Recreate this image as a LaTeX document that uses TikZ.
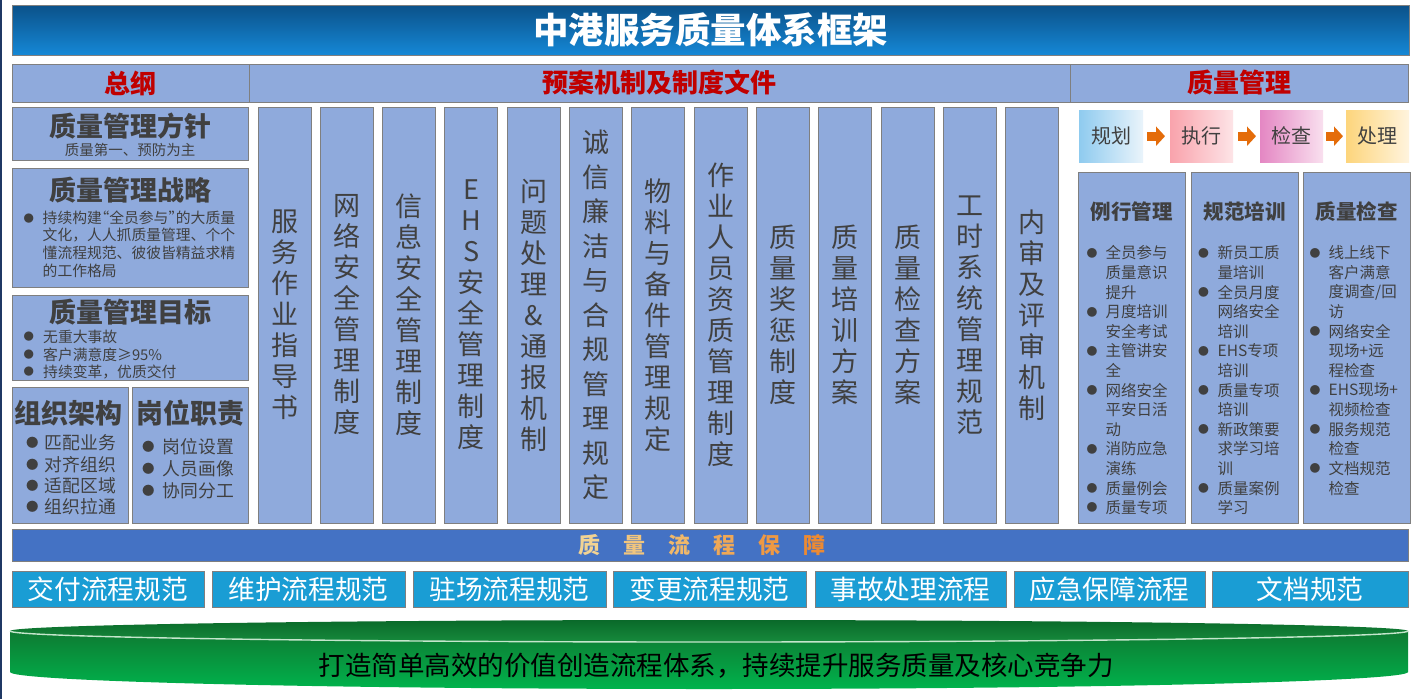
\documentclass[tikz,border=0pt]{standalone}
\usepackage{fontspec}
\usepackage{graphicx}
\setmainfont{Noto Sans CJK SC}
\usetikzlibrary{arrows.meta}
\definecolor{boxfill}{HTML}{8FAADC}
\definecolor{boxline}{HTML}{7F7F7F}
\definecolor{txt}{HTML}{404040}
\definecolor{hdrred}{HTML}{C00000}
\definecolor{procblue}{HTML}{1A9DD4}
\definecolor{barblue}{HTML}{4472C4}
\definecolor{titletop}{HTML}{0B5189}
\definecolor{titlebot}{HTML}{1588D6}
\definecolor{arroworange}{HTML}{E46C0A}
\definecolor{navyline}{HTML}{1F3864}
\definecolor{gtop}{HTML}{0E7A32}
\definecolor{gbot}{HTML}{00B34C}
\definecolor{gcapA}{HTML}{0A6A2A}
\definecolor{gcapB}{HTML}{168A3C}
\definecolor{ghl}{HTML}{C4E6CC}
\definecolor{pL}{HTML}{8FCBEF}\definecolor{pR}{HTML}{EAF4FB}
\definecolor{dL}{HTML}{F9A3AC}\definecolor{dR}{HTML}{FDE4E7}
\definecolor{cL}{HTML}{E487C3}\definecolor{cR}{HTML}{F9E0EF}
\definecolor{aL}{HTML}{FDD57C}\definecolor{aR}{HTML}{FFF4DE}
\definecolor{g1}{HTML}{F2D393}\definecolor{g2}{HTML}{F0C57E}
\definecolor{g3}{HTML}{F0B86A}\definecolor{g4}{HTML}{EFA857}
\definecolor{g5}{HTML}{EE9944}\definecolor{g6}{HTML}{EC8A33}
\newcommand\bl[1]{\makebox[#1][l]{\raisebox{0.11em}{\scalebox{0.7}{●}}}}
\newcommand\cn[1]{\hspace*{#1}}
\newcommand\myLq{\makebox[0.5em][r]{“}}
\newcommand\myRq{\makebox[0.5em][l]{”}}
\begin{document}
\begin{tikzpicture}[x=1pt,y=-1pt,
 box/.style={draw=boxline, line width=1pt, fill=boxfill, anchor=north west, inner sep=0pt, outer sep=0pt},
 hdr/.style={box, minimum height=38pt, text=hdrred, font=\bfseries\fontsize{26}{26}\selectfont},
 ttl/.style={inner sep=0pt, text=txt, font=\bfseries\fontsize{27}{27}\selectfont},
 col/.style={box, minimum width=53pt, minimum height=416pt, align=center, text=txt, font=\fontsize{27}{31}\selectfont},
 pdca/.style={anchor=north west, inner sep=0pt, minimum width=63pt, minimum height=52pt, text=txt, font=\fontsize{20}{20}\selectfont},
 rbox/.style={box, minimum width=107pt, minimum height=351pt},
 rttl/.style={inner sep=0pt, text=txt, font=\bfseries\fontsize{20.5}{20.5}\selectfont},
 bt/.style={anchor=west, inner sep=0pt, text=txt},
 proc/.style={box, fill=procblue, minimum height=36pt, text=white, font=\fontsize{26.7}{26.7}\selectfont},
 flow/.style={arroworange, line width=9pt, -{Triangle[length=9pt,width=19pt]}},
]
\useasboundingbox (0,0) rectangle (1419,699);
\fill[white] (0,0) rectangle (1419,699);
\fill[navyline] (0,0) rectangle (2,699);

% title
\node[box, minimum width=1397pt, minimum height=50pt, top color=titletop, bottom color=titlebot, text=white, font=\bfseries\fontsize{35.5}{35.5}\selectfont] (title) at (12,5) {中港服务质量体系框架};

% header row
\node[hdr, minimum width=237pt] (hA) at (12,64) {总纲};
\node[hdr, minimum width=821pt] (hB) at (249,64) {预案机制及制度文件};
\node[hdr, minimum width=338pt] (hC) at (1070,64) {质量管理};

% left column
\node[box, minimum width=236pt, minimum height=53pt] (L1) at (12,107) {};
\node[ttl] (L1t) at (130,126) {质量管理方针};
\node[inner sep=0pt, text=txt, font=\fontsize{14.5}{14.5}\selectfont] (L1s) at (130,150) {质量第一、预防为主};

\node[box, minimum width=236pt, minimum height=119pt] (L2) at (12,168) {};
\node[ttl] (L2t) at (130,190) {质量管理战略};
\foreach \t [count=\i from 0] in {{\bl{19pt}持续构建\myLq 全员参与\myRq 的大质量},{\cn{19pt}文化，人人抓质量管理、个个},{\cn{19pt}懂流程规范、彼彼皆精益求精},{\cn{19pt}的工作格局}}
  \node[bt, font=\fontsize{14.8}{14.8}\selectfont] (L2l\i) at (23.5,{218+17.5*\i}) {\t};

\node[box, minimum width=236pt, minimum height=85pt] (L3) at (12,295) {};
\node[ttl] (L3t) at (130,312) {质量管理目标};
\foreach \t [count=\i from 0] in {{\bl{19.5pt}无重大事故},{\bl{19.5pt}客户满意度≥95\%},{\bl{19.5pt}持续变革，优质交付}}
  \node[bt, font=\fontsize{14.8}{14.8}\selectfont] (L3l\i) at (23.5,{337+17.5*\i}) {\t};

\node[box, minimum width=116pt, minimum height=136pt] (L4) at (12,387) {};
\node[ttl] (L4t) at (68,413) {组织架构};
\foreach \t [count=\i from 0] in {{\bl{18.5pt}匹配业务},{\bl{18.5pt}对齐组织},{\bl{18.5pt}适配区域},{\bl{18.5pt}组织拉通}}
  \node[bt, font=\fontsize{17.8}{17.8}\selectfont] (L4l\i) at (26,{443+21.3*\i}) {\t};

\node[box, minimum width=116pt, minimum height=136pt] (L5) at (132,387) {};
\node[ttl] (L5t) at (190,413) {岗位职责};
\foreach \t [count=\i from 0] in {{\bl{20.5pt}岗位设置},{\bl{20.5pt}人员画像},{\bl{20.5pt}协同分工}}
  \node[bt, font=\fontsize{17.8}{17.8}\selectfont] (L5l\i) at (142,{447+22*\i}) {\t};

% vertical document columns
\node[col] (c1) at (258,107) {服\\务\\作\\业\\指\\导\\书};
\node[col] (c2) at (320.3,107) {网\\络\\安\\全\\管\\理\\制\\度};
\node[col] (c3) at (382.6,107) {信\\息\\安\\全\\管\\理\\制\\度};
\node[col] (c4) at (444.9,107) {E\\H\\S\\安\\全\\管\\理\\制\\度};
\node[col] (c5) at (507.2,107) {问\\题\\处\\理\\\&\\通\\报\\机\\制};
\node[col, font=\fontsize{27}{34.5}\selectfont] (c6) at (569.5,107) {诚\\信\\廉\\洁\\与\\合\\规\\管\\理\\规\\定};
\node[col] (c7) at (631.8,107) {物\\料\\与\\备\\件\\管\\理\\规\\定};
\node[col] (c8) at (694.1,107) {作\\业\\人\\员\\资\\质\\管\\理\\制\\度};
\node[col] (c9) at (756.4,107) {质\\量\\奖\\惩\\制\\度};
\node[col] (c10) at (818.7,107) {质\\量\\培\\训\\方\\案};
\node[col] (c11) at (881,107) {质\\量\\检\\查\\方\\案};
\node[col] (c12) at (943.3,107) {工\\时\\系\\统\\管\\理\\规\\范};
\node[col] (c13) at (1005.6,107) {内\\审\\及\\评\\审\\机\\制};

% PDCA
\node[pdca, minimum width=64pt, left color=pL, right color=pR] (P) at (1079,110) {规划};
\node[pdca, left color=dL, right color=dR] (D) at (1170,110) {执行};
\node[pdca, left color=cL, right color=cR] (C) at (1260,110) {检查};
\node[pdca, left color=aL, right color=aR] (A) at (1346,110) {处理};
\draw[flow] ([xshift=4pt]P.east) -- ([xshift=-5pt]D.west);
\draw[flow] ([xshift=5pt]D.east) -- ([xshift=-4pt]C.west);
\draw[flow] ([xshift=3pt]C.east) -- ([xshift=-3pt]A.west);

% right boxes
\node[rbox] (R1) at (1078,172) {};
\node[rbox] (R2) at (1191,172) {};
\node[rbox] (R3) at (1303,172) {};
\node[rttl] (R1t) at (1131.5,212) {例行管理};
\node[rttl] (R2t) at (1244.5,212) {规范培训};
\node[rttl] (R3t) at (1356.5,212) {质量检查};
\foreach \t [count=\i from 0] in {{\bl{19pt}全员参与},{\cn{19pt}质量意识},{\cn{19pt}提升},{\bl{19pt}月度培训},{\cn{19pt}安全考试},{\bl{19pt}主管讲安},{\cn{19pt}全},{\bl{19pt}网络安全},{\cn{19pt}平安日活},{\cn{19pt}动},{\bl{19pt}消防应急},{\cn{19pt}演练},{\bl{19pt}质量例会},{\bl{19pt}质量专项}}
  \node[bt, font=\fontsize{15.5}{15.5}\selectfont] (R1l\i) at (1086.5,{253+19.6*\i}) {\t};
\foreach \t [count=\i from 0] in {{\bl{19.5pt}新员工质},{\cn{19.5pt}量培训},{\bl{19.5pt}全员月度},{\cn{19.5pt}网络安全},{\cn{19.5pt}培训},{\bl{19.5pt}EHS专项},{\cn{19.5pt}培训},{\bl{19.5pt}质量专项},{\cn{19.5pt}培训},{\bl{19.5pt}新政策要},{\cn{19.5pt}求学习培},{\cn{19.5pt}训},{\bl{19.5pt}质量案例},{\cn{19.5pt}学习}}
  \node[bt, font=\fontsize{15.5}{15.5}\selectfont] (R2l\i) at (1198,{253+19.6*\i}) {\t};
\foreach \t [count=\i from 0] in {{\bl{19pt}线上线下},{\cn{19pt}客户满意},{\cn{19pt}度调查/回},{\cn{19pt}访},{\bl{19pt}网络安全},{\cn{19pt}现场+远},{\cn{19pt}程检查},{\bl{19pt}EHS现场+},{\cn{19pt}视频检查},{\bl{19pt}服务规范},{\cn{19pt}检查},{\bl{19pt}文档规范},{\cn{19pt}检查}}
  \node[bt, font=\fontsize{15.5}{15.5}\selectfont] (R3l\i) at (1309.5,{253+19.6*\i}) {\t};

% quality process bar
\node[box, fill=barblue, minimum width=1396pt, minimum height=32pt] (bar) at (12,529) {};
\node[inner sep=0pt, font=\bfseries\fontsize{22}{22}\selectfont] (bartxt) at (702,545) {\textcolor{g1}{质}\hspace{23pt}\textcolor{g2}{量}\hspace{23pt}\textcolor{g3}{流}\hspace{23pt}\textcolor{g4}{程}\hspace{23pt}\textcolor{g5}{保}\hspace{23pt}\textcolor{g6}{障}};

% process boxes
\node[proc, minimum width=192pt] (p1) at (12,571) {交付流程规范};
\node[proc, minimum width=193pt] (p2) at (212,571) {维护流程规范};
\node[proc, minimum width=193pt] (p3) at (413,571) {驻场流程规范};
\node[proc, minimum width=193pt] (p4) at (613,571) {变更流程规范};
\node[proc, minimum width=191pt] (p5) at (815,571) {事故处理流程};
\node[proc, minimum width=191pt] (p6) at (1014,571) {应急保障流程};
\node[proc, minimum width=196pt] (p7) at (1212,571) {文档规范};

% green disc
\shade[top color=gtop, bottom color=gbot] (10,631) -- (10,672) arc[start angle=180, end angle=0, x radius=699, y radius=17] -- (1408,631) -- cycle;
\shade[top color=gcapA, bottom color=gcapB] (709,631) ellipse [x radius=699, y radius=11];
\draw[ghl, line width=1.4pt] (10,631) arc[start angle=180, end angle=0, x radius=699, y radius=11];
\node[inner sep=0pt, text=black, font=\fontsize{26.5}{26.5}\selectfont] (goal) at (716,666) {打造简单高效的价值创造流程体系，持续提升服务质量及核心竞争力};
\end{tikzpicture}
\end{document}
